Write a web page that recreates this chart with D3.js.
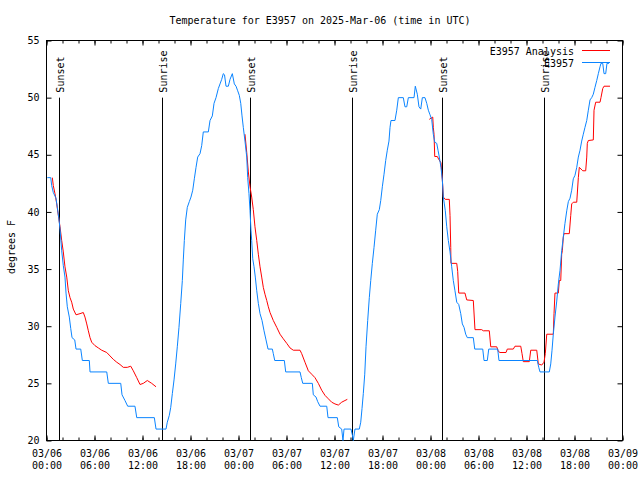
<!DOCTYPE html>
<html><head><meta charset="utf-8">
<script src="https://cdn.jsdelivr.net/npm/d3@7"></script>
<style>
html,body{margin:0;padding:0;background:#fff;}
svg{display:block;}
text{font-family:"DejaVu Sans Mono","Liberation Mono",monospace;font-size:10px;fill:#000;}
</style></head>
<body>
<svg id="c" width="640" height="480"></svg>
<script>
const titleText = "Temperature for E3957 on 2025-Mar-06 (time in UTC)";
const yLabel = "degrees F";
const seriesNames = ["E3957 Analysis", "E3957"];
const yTicks = [20, 25, 30, 35, 40, 45, 50, 55];
const sunLabels = ["Sunset", "Sunrise", "Sunset", "Sunrise", "Sunset", "Sunrise"];
const sunHours = [1.52, 14.4, 25.48, 38.23, 49.48, 62.23];

// observations (hours since 2025-03-06 00:00 UTC, °F)
const obsHours = [0.10,0.53,0.65,0.85,1.19,1.35,1.53,1.69,1.90,2.10,2.31,2.44,2.60,2.85,3.03,3.19,3.53,3.69,4.28,4.48,5.35,5.44,7.53,7.73,9.28,9.44,9.81,10.15,11.06,11.28,13.48,13.69,14.94,15.10,15.35,15.53,15.73,15.94,16.15,16.35,16.56,16.78,16.98,17.10,17.23,17.40,17.60,17.85,18.06,18.28,18.48,18.69,18.90,19.19,19.40,19.60,20.23,20.44,20.73,20.94,21.19,21.48,21.69,21.90,22.10,22.25,22.44,22.73,22.94,23.23,23.48,23.69,23.90,24.10,24.28,24.44,24.60,24.81,25.03,25.15,25.31,25.44,25.56,25.65,25.78,25.94,26.10,26.28,26.48,26.69,26.94,27.19,27.44,27.69,28.23,28.35,28.53,29.73,29.90,31.69,31.85,32.03,33.23,33.35,33.69,33.90,34.19,35.03,35.19,36.35,36.53,36.90,37.06,37.19,38.06,38.23,38.35,38.56,39.10,39.28,39.44,39.60,39.78,39.94,40.15,40.35,40.53,40.73,40.94,41.15,41.35,41.60,41.78,41.98,42.19,42.40,42.60,42.81,42.94,43.06,43.56,43.78,43.98,44.60,44.81,45.03,45.23,45.94,46.10,46.35,46.56,46.78,46.98,47.31,47.53,47.73,47.94,48.15,48.35,48.53,48.78,48.94,49.10,49.31,49.48,49.60,49.73,49.85,50.03,50.23,50.44,50.65,50.85,51.06,51.28,51.53,51.78,51.98,52.19,52.40,52.60,53.35,53.53,54.53,54.69,55.10,55.28,56.40,56.56,61.35,61.53,61.69,62.85,63.03,63.19,63.35,63.56,63.78,63.98,64.19,64.40,64.60,64.81,65.03,65.23,65.44,65.65,65.85,66.06,66.28,66.48,66.69,66.90,67.10,67.31,67.53,67.73,67.94,68.15,68.35,68.56,68.78,68.98,69.19,69.31,69.53,69.69,69.90,70.06,70.31];
const obsTemps = [43,43,42.3,41.7,41.2,40.4,39.5,38.5,36.6,35.3,34.3,32.9,31.7,30.8,29.8,29,28.8,28,28,27,27,26,26,25,25,24,23.5,23,23,22,22,21,21,21.6,22.2,22.9,24.1,25.3,26.7,28.2,29.9,32,34,35.8,37.5,39.3,40.4,40.9,41.3,41.9,42.9,43.9,44.8,45.1,45.8,47,47,48,48.4,49.5,50,50.8,51.2,51.6,52.1,52,51,51,51.6,52.1,51.2,51,50.6,50.2,49.5,48.4,47.4,46.2,44.8,43,41.6,40.1,38.4,37.5,35.9,35.2,34.3,33.1,32,31.1,30.5,29.6,28.8,28,28,27.6,27,27,26,26,25.5,25,25,24,23.8,23.4,23,23,22,22,21.2,21,20,21,21,20.5,20,21,21,21.6,22.8,24.1,25.8,28.2,30.5,32.5,34,35.5,36.9,38.4,39.8,40.2,41,42.2,43.3,44.5,45.4,46.2,47.4,48,48,48.9,50,50,49.2,49.2,50,50,51,50.3,49.2,49,50,50,49.5,48.9,48.5,48.1,46.8,46.1,46,45.4,44.8,43.9,42.8,41.3,40.7,40.1,38.7,37.5,36.5,35.2,34,33.1,32.1,31.9,31.1,30.2,29.9,29.3,29,29,28,28,27,27,28,28,27,27,26.4,26,26,26.7,27.9,29.3,30.8,32.2,33.7,34.9,36.6,37.8,39,40.1,40.9,41.2,41.9,42.9,43.2,43.9,44.8,45.4,46.2,46.8,47.4,48,48.9,49.8,50,50.3,50.9,51.5,52.1,52.7,53,53,52.1,52.1,53,53];

// analysis (null = gap)
const anaHours = [0.73,0.85,1.06,1.28,1.48,1.69,1.90,2.10,2.31,2.53,2.73,2.94,3.15,3.35,3.69,4.19,4.60,4.81,5.03,5.23,5.44,5.65,6.06,6.48,6.90,7.53,7.94,8.35,8.78,9.19,9.60,10.10,10.53,10.85,11.28,11.69,12.10,12.60,13.15,13.69,
  19.0,
  24.81,25.03,25.23,25.44,25.65,25.85,26.06,26.28,26.48,26.69,26.90,27.10,27.31,27.53,27.73,27.94,28.35,28.78,29.19,29.60,30.03,30.44,30.85,31.69,31.90,32.31,32.73,33.15,33.56,33.98,34.40,34.81,35.23,35.65,36.06,36.48,36.90,37.31,37.60,
  43.0,
  47.85,48.28,48.35,48.44,48.53,48.85,49.03,49.31,49.40,49.53,49.60,49.85,50.35,50.44,50.53,50.56,51.28,51.40,51.53,52.31,52.53,53.35,53.56,54.40,54.60,55.35,55.53,56.28,56.48,56.69,57.44,57.60,58.35,58.56,59.28,59.44,59.60,60.35,60.53,61.28,61.48,61.90,62.19,62.35,62.53,63.35,63.44,63.56,63.98,64.10,64.28,64.40,64.48,64.60,64.69,65.35,65.53,65.65,65.85,66.28,66.48,66.60,67.03,67.40,67.53,67.60,67.73,68.35,68.44,68.65,69.19,69.31,69.53,69.69,70.44];
const anaTemps = [43,42.3,41.6,40.7,39.7,38.7,37.5,36.5,35.2,34.3,33.1,32.5,32.1,31.5,31,31.1,31.2,30.8,30.2,29.6,29.0,28.6,28.3,28.1,27.9,27.7,27.4,27.1,26.85,26.65,26.4,26.4,26.5,26.1,25.5,24.9,25.0,25.25,25.0,24.7,
  null,
  46.8,45.2,43.5,42.2,41.3,40.2,38.7,37.5,36.3,35.2,34.3,33.4,32.8,32.25,31.7,31.2,30.5,29.9,29.3,28.9,28.5,28.1,27.9,27.9,27.6,26.85,26.1,25.8,25.5,25.0,24.4,23.95,23.65,23.35,23.2,23.1,23.35,23.5,23.6,
  null,
  48.1,48.3,47.4,46.8,44.85,44.85,44.6,44.3,43.6,42.3,41.3,41.1,41.1,39.7,36.9,35.5,35.5,34.8,32.9,32.9,32.3,32.25,29.7,29.7,29.6,29.6,28.2,28.2,27.8,27.7,27.7,28.0,28.0,28.25,28.25,27.6,26.9,26.9,27.9,27.9,26.7,26.6,26.85,27.6,29.3,29.3,31.1,32.9,32.9,34,34,36.3,36.6,37.8,38.1,38.1,39.7,40.7,40.85,40.85,43,43.9,43.6,43.6,44.8,46.0,46.25,46.3,48.9,49.6,49.6,50.0,50.8,51,51];

const start = Date.UTC(2025, 2, 6);
const toDate = h => new Date(start + h * 3600000);

const svg = d3.select("#c");
const L = 46.5, R = 622.5, T = 40.5, B = 440.5;
const x = d3.scaleUtc().domain([new Date(start), new Date(Date.UTC(2025, 2, 9))]).range([L, R]);
const y = d3.scaleLinear().domain([20, 55]).range([B, T]);

// title
svg.append("text").attr("x", 320).attr("y", 24).attr("text-anchor", "middle").text(titleText);
// y label
svg.append("text").attr("transform", "translate(15,247) rotate(-90)").attr("text-anchor", "middle").text(yLabel);

// axes
const fmtD = d3.utcFormat("%m/%d"), fmtT = d3.utcFormat("%H:%M");
const xMajor = d3.axisBottom(x).ticks(d3.utcHour.every(6)).tickSizeInner(-5).tickSizeOuter(0).tickPadding(15).tickFormat(() => "");
const gx = svg.append("g").attr("transform", `translate(0,${B})`).call(xMajor);
gx.selectAll(".tick text").each(function(d) {
  const t = d3.select(this);
  t.append("tspan").attr("x", 0).attr("dy", "0.1em").text(fmtD(d));
  t.append("tspan").attr("x", 0).attr("dy", "1.2em").text(fmtT(d));
});
const xMinor = d3.axisBottom(x).ticks(d3.utcHour.every(2)).tickSizeInner(-3).tickSizeOuter(0).tickFormat("");
svg.append("g").attr("transform", `translate(0,${B})`).call(xMinor);
svg.append("g").attr("transform", `translate(0,${T})`).call(d3.axisTop(x).ticks(d3.utcHour.every(6)).tickSizeInner(-5).tickSizeOuter(0).tickFormat(""));
svg.append("g").attr("transform", `translate(0,${T})`).call(d3.axisTop(x).ticks(d3.utcHour.every(2)).tickSizeInner(-3).tickSizeOuter(0).tickFormat(""));
svg.append("g").attr("transform", `translate(${L},0)`).call(d3.axisLeft(y).tickValues(yTicks).tickSizeInner(-5).tickSizeOuter(0).tickPadding(7).tickFormat(d3.format("d")));
svg.append("g").attr("transform", `translate(${R},0)`).call(d3.axisRight(y).tickValues(yTicks).tickSizeInner(-5).tickSizeOuter(0).tickFormat(""));
svg.selectAll(".domain").remove();
svg.selectAll(".tick line").attr("stroke", "#000");
svg.selectAll(".tick text").attr("font-family", null).attr("font-size", null);

svg.append("rect").attr("x", L).attr("y", T).attr("width", R - L).attr("height", B - T)
  .attr("fill", "none").attr("stroke", "#000").attr("stroke-width", 1);

// sunrise / sunset markers
sunHours.forEach((h, i) => {
  const sx = Math.round(x(toDate(h))) + 0.5;
  svg.append("line").attr("x1", sx).attr("x2", sx).attr("y1", y(50)).attr("y2", B).attr("stroke", "#000");
  svg.append("text").attr("transform", `translate(${sx + 4},${y(50) - 5}) rotate(-90)`).text(sunLabels[i]);
});

const line = d3.line().defined(d => d[1] != null).x(d => x(toDate(d[0]))).y(d => y(d[1]));
const anaData = anaHours.map((h, i) => [h, anaTemps[i]]);
const obsData = obsHours.map((h, i) => [h, obsTemps[i]]);
const colors = ["#ff0000", "#0a84ff"];

svg.append("path").datum(anaData).attr("d", line).attr("fill", "none").attr("stroke", colors[0]).attr("stroke-width", 1);
svg.append("path").datum(obsData).attr("d", line).attr("fill", "none").attr("stroke", colors[1]).attr("stroke-width", 1);

// legend
seriesNames.forEach((n, i) => {
  const ly = 50.5 + i * 12;
  svg.append("text").attr("x", 574).attr("y", ly + 4).attr("text-anchor", "end").text(n);
  svg.append("line").attr("x1", 582).attr("x2", 610).attr("y1", ly).attr("y2", ly).attr("stroke", colors[i]);
});
</script>
</body></html>
